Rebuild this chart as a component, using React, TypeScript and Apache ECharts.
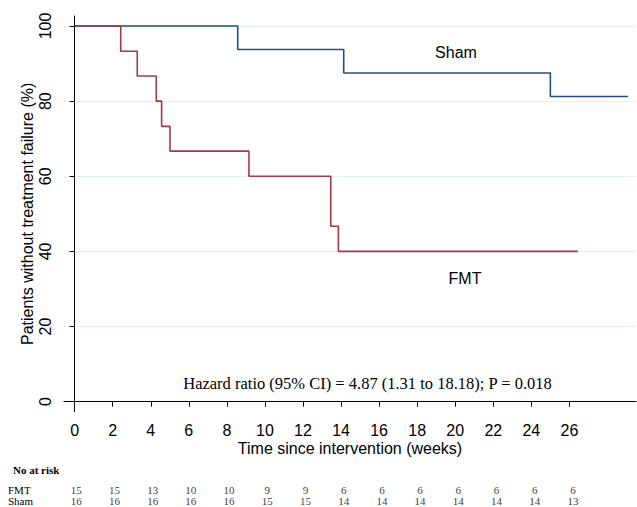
import React, { useEffect, useRef } from "react";
import * as echarts from "echarts";

const fmtTimes = [0, 2.42, 3.29, 4.29, 4.57, 5.01, 9.16, 13.46, 13.86, 26.44];
const fmtSurv = [100, 93.3, 86.7, 80, 73.3, 66.7, 60, 46.7, 40, 40];
const shamTimes = [0, 8.57, 14.14, 25.0, 29.08];
const shamSurv = [100, 93.75, 87.5, 81.25, 81.25];

const xTicks = [0, 2, 4, 6, 8, 10, 12, 14, 16, 18, 20, 22, 24, 26];
const yTicks = [0, 20, 40, 60, 80, 100];
const riskWeeks = [0, 2, 4, 6, 8, 10, 12, 14, 16, 18, 20, 22, 24, 26];
const riskFMT = [15, 15, 13, 10, 10, 9, 9, 6, 6, 6, 6, 6, 6, 6];
const riskSham = [16, 16, 16, 16, 16, 15, 15, 14, 14, 14, 14, 14, 14, 13];
const groups = ["Sham", "FMT"];

const SANS = '"Liberation Sans", Arial, sans-serif';
const SERIF = '"Liberation Serif", "Times New Roman", serif';
const BLUE = "#1f5080";
const RED = "#a13a44";

export default function App() {
  const ref = useRef<HTMLDivElement>(null);
  useEffect(() => {
    if (!ref.current) return;
    const chart = echarts.init(ref.current, undefined, { renderer: "svg" });
    const riskLabel = {
      show: true,
      position: "inside",
      formatter: (p: any) => String(p.value[2]),
      fontFamily: SERIF,
      fontSize: 11,
      color: "#000",
    };
    const option: any = {
      animation: false,
      backgroundColor: "#ffffff",
      title: {
        text: "No at risk",
        left: 8,
        top: 459,
        textStyle: { fontFamily: SERIF, fontSize: 11, fontWeight: "bold", color: "#000" },
      },
      grid: [
        { left: 64, right: 1, top: 16, bottom: 95.3, containLabel: false },
        { left: 64, right: 1, top: 484.5, height: 22, containLabel: false },
      ],
      xAxis: [
        {
          gridIndex: 0,
          type: "value",
          min: -0.56,
          max: 29.5,
          name: "Time since intervention (weeks)",
          nameLocation: "middle",
          nameGap: 29,
          nameMoveOverlap: false,
          nameTextStyle: { fontFamily: SANS, fontSize: 16, color: "#000" },
          axisLine: { show: true, lineStyle: { color: "#000", width: 1 } },
          axisTick: { show: true, length: 5, customValues: xTicks, lineStyle: { color: "#000" } },
          axisLabel: {
            customValues: xTicks,
            margin: 11,
            fontFamily: SANS,
            fontSize: 16,
            color: "#000",
          },
          splitLine: { show: false },
        },
        {
          gridIndex: 1,
          type: "value",
          min: -0.64,
          max: 29.3,
          show: false,
        },
      ],
      yAxis: [
        {
          gridIndex: 0,
          type: "value",
          min: -2.67,
          max: 102.67,
          name: "Patients without treatment failure (%)",
          nameLocation: "middle",
          nameRotate: 90,
          nameGap: 29,
          nameMoveOverlap: false,
          nameTextStyle: { fontFamily: SANS, fontSize: 16, color: "#000" },
          axisLine: { show: true, lineStyle: { color: "#000", width: 1 } },
          axisTick: { show: true, length: 5, customValues: yTicks, lineStyle: { color: "#000" } },
          axisLabel: {
            customValues: yTicks,
            rotate: 90,
            margin: 11,
            fontFamily: SANS,
            fontSize: 16,
            color: "#000",
          },
          splitLine: { show: true, lineStyle: { color: "#e6eff2", width: 1 } },
        },
        {
          gridIndex: 1,
          type: "category",
          data: groups,
          axisLine: { show: false },
          axisTick: { show: false },
          axisLabel: {
            interval: 0,
            align: "left",
            margin: 56,
            fontFamily: SERIF,
            fontSize: 11,
            color: "#000",
          },
          splitLine: { show: false },
        },
      ],
      series: [
        {
          name: "Sham",
          type: "line",
          step: "end",
          xAxisIndex: 0,
          yAxisIndex: 0,
          showSymbol: false,
          symbol: "none",
          lineStyle: { color: BLUE, width: 1.6 },
          data: shamTimes.map((t, i) => [t, shamSurv[i]]),
          z: 3,
        },
        {
          name: "FMT",
          type: "line",
          step: "end",
          xAxisIndex: 0,
          yAxisIndex: 0,
          showSymbol: false,
          symbol: "none",
          lineStyle: { color: RED, width: 1.6 },
          data: fmtTimes.map((t, i) => [t, fmtSurv[i]]),
          z: 4,
        },
        {
          name: "risk-FMT",
          type: "scatter",
          xAxisIndex: 1,
          yAxisIndex: 1,
          symbolSize: 0,
          label: riskLabel,
          data: riskWeeks.map((t, i) => [t, "FMT", riskFMT[i]]),
        },
        {
          name: "risk-Sham",
          type: "scatter",
          xAxisIndex: 1,
          yAxisIndex: 1,
          symbolSize: 0,
          label: riskLabel,
          data: riskWeeks.map((t, i) => [t, "Sham", riskSham[i]]),
        },
      ],
      graphic: [
        {
          type: "text",
          x: 456,
          y: 52,
          style: {
            text: "Sham",
            fontFamily: SANS,
            fontSize: 16,
            fill: "#000",
            align: "center",
            verticalAlign: "middle",
          },
        },
        {
          type: "text",
          x: 465,
          y: 278,
          style: {
            text: "FMT",
            fontFamily: SANS,
            fontSize: 16,
            fill: "#000",
            align: "center",
            verticalAlign: "middle",
          },
        },
        {
          type: "text",
          x: 367.5,
          y: 383,
          style: {
            text: "Hazard ratio (95% CI) = 4.87 (1.31 to 18.18); P = 0.018",
            fontFamily: SERIF,
            fontSize: 16.5,
            fill: "#000",
            align: "center",
            verticalAlign: "middle",
          },
        },
      ],
    };
    chart.setOption(option);
    return () => chart.dispose();
  }, []);
  return <div ref={ref} style={{ width: 637, height: 507, position: "absolute", left: 0, top: 0 }} />;
}
